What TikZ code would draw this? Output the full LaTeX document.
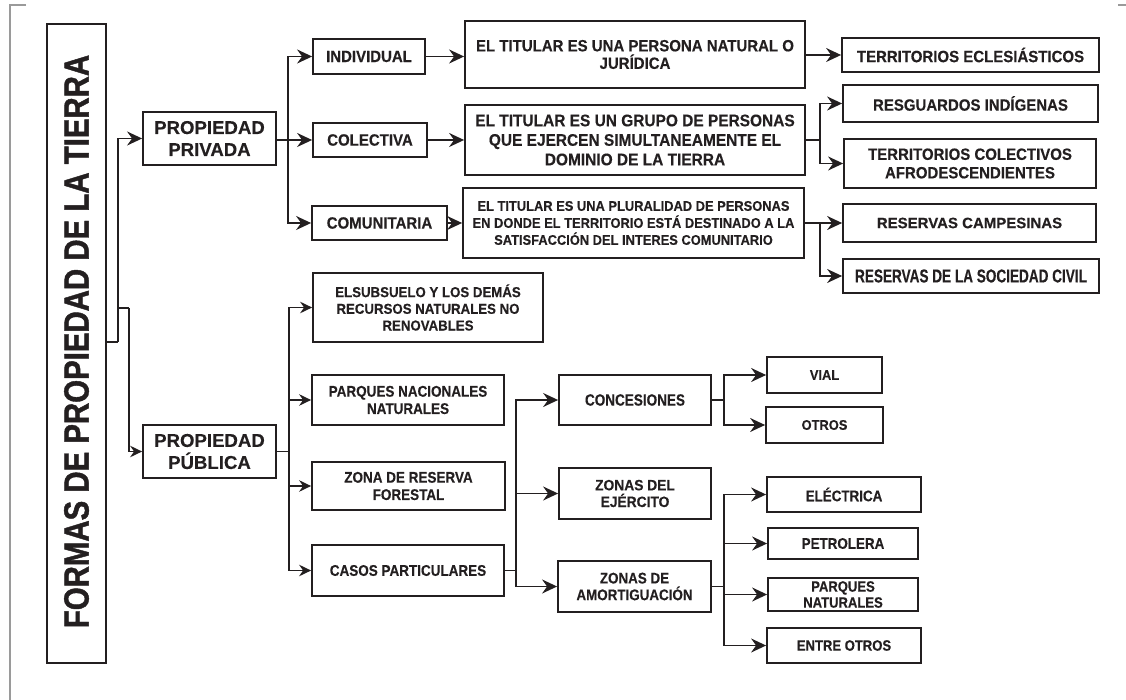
\documentclass[tikz,border=0pt]{standalone}
\usepackage{fontspec}
\setmainfont{Liberation Sans}
\newfontfamily\fa{Liberation Sans}[FakeBold=0.3]
\newfontfamily\fb{Liberation Sans}[FakeStretch=0.92,FakeBold=0.3]
\newfontfamily\fc{Liberation Sans}[FakeStretch=0.87,FakeBold=0.3]
\newfontfamily\fd{Liberation Sans}[FakeStretch=0.83,FakeBold=0.3]
\newfontfamily\fe{Liberation Sans}[FakeStretch=0.73,FakeBold=0.3]
\newfontfamily\ftitle{Liberation Sans}[FakeStretch=0.84,FakeBold=1.2]
\usetikzlibrary{arrows.meta}
\definecolor{ink}{HTML}{231F20}
\definecolor{framegray}{HTML}{9A9A9A}
\newcommand\myfs[2]{\fontsize{#1}{#2}\selectfont\bfseries}
\begin{document}
\begin{tikzpicture}[x=1pt,y=-1pt,
  bx/.style={draw=ink,line width=1.8pt,inner sep=0pt,align=center,text=ink},
  con/.style={draw=ink,line width=1.6pt},
  arr/.style={con,-{Stealth[length=15pt,width=14pt,inset=5pt]}},
  arrs/.style={con,-{Stealth[length=12pt,width=11.5pt,inset=4pt]}}]
\useasboundingbox (0,0) rectangle (1126,700);
% frame marks
\draw[framegray,line width=1.2pt] (26,5) -- (10,5) -- (10,700);
\draw[framegray,line width=1.2pt] (1118,5) -- (1126,5);

% main box
\node[bx,minimum width=59pt,minimum height=639pt] (main) at (76.5,343.5) {};
\node[rotate=90,text=ink,inner sep=0pt,font={\ftitle\myfs{35}{40}}] (mainlbl) at (76.5,341.5) {FORMAS DE PROPIEDAD DE LA TIERRA};

% level 1
\node[bx,minimum width=133pt,minimum height=53pt,font={\fa\myfs{18.6}{22}}] (priv) at (209.5,138.5) {PROPIEDAD\\PRIVADA};
\node[bx,minimum width=133pt,minimum height=53pt,font={\fa\myfs{18.6}{22}}] (pub) at (209.5,451.5) {PROPIEDAD\\PÚBLICA};

% private branch
\node[bx,minimum width=112pt,minimum height=35pt,font={\fb\myfs{16.3}{19}}] (ind) at (369,56.5) {INDIVIDUAL};
\node[bx,minimum width=114pt,minimum height=34pt,font={\fb\myfs{16.3}{19}}] (col) at (370,140) {COLECTIVA};
\node[bx,minimum width=135pt,minimum height=34pt,font={\fb\myfs{16.3}{19}}] (com) at (379.5,223) {COMUNITARIA};

\node[bx,minimum width=340pt,minimum height=67pt,font={\fb\myfs{16.3}{17.5}}] (t1) at (635,54.5) {EL TITULAR ES UNA PERSONA NATURAL O\\JURÍDICA};
\node[bx,minimum width=340pt,minimum height=70pt,font={\fb\myfs{16.8}{19.5}}] (t2) at (635,140) {EL TITULAR ES UN GRUPO DE PERSONAS\\QUE EJERCEN SIMULTANEAMENTE EL\\DOMINIO DE LA TIERRA};
\node[bx,minimum width=341pt,minimum height=70pt,font={\fb\myfs{14}{17}}] (t3) at (633.5,223) {EL TITULAR ES UNA PLURALIDAD DE PERSONAS\\EN DONDE EL TERRITORIO ESTÁ DESTINADO A LA\\SATISFACCIÓN DEL INTERES COMUNITARIO};

\node[bx,minimum width=257pt,minimum height=34pt,font={\fb\myfs{16.3}{19}}] (ecl) at (970.5,55) {TERRITORIOS ECLESIÁSTICOS};
\node[bx,minimum width=255pt,minimum height=37pt,font={\fb\myfs{16.3}{19}}] (res) at (970.5,103.5) {RESGUARDOS INDÍGENAS};
\node[bx,minimum width=252pt,minimum height=49pt,font={\fb\myfs{16.3}{18.5}}] (tco) at (970,163.5) {TERRITORIOS COLECTIVOS\\AFRODESCENDIENTES};
\node[bx,minimum width=253pt,minimum height=38pt,font={\fa\myfs{15}{18}}] (cam) at (969.5,223) {RESERVAS CAMPESINAS};
\node[bx,minimum width=256pt,minimum height=34pt,font={\fe\myfs{18.6}{20}}] (soc) at (971,276) {RESERVAS DE LA SOCIEDAD CIVIL};

% public branch
\node[bx,minimum width=230pt,minimum height=69pt,font={\fb\myfs{14.4}{16.7}}] (sub) at (428,307.5) {ELSUBSUELO Y LOS DEMÁS\\RECURSOS NATURALES NO\\RENOVABLES};
\node[bx,minimum width=192pt,minimum height=50pt,font={\fc\myfs{15.5}{17.3}}] (pnn) at (408,400) {PARQUES NACIONALES\\NATURALES};
\node[bx,minimum width=193pt,minimum height=48pt,font={\fc\myfs{15.5}{17.3}}] (zrf) at (408.5,486) {ZONA DE RESERVA\\FORESTAL};
\node[bx,minimum width=192pt,minimum height=51pt,font={\fc\myfs{15.5}{17.3}}] (cas) at (408,570.5) {CASOS PARTICULARES};

\node[bx,minimum width=152pt,minimum height=50pt,font={\fd\myfs{16.3}{19}}] (conc) at (635,400) {CONCESIONES};
\node[bx,minimum width=152pt,minimum height=51pt,font={\fb\myfs{15}{16.7}}] (ejer) at (635,493.5) {ZONAS DEL\\EJÉRCITO};
\node[bx,minimum width=153pt,minimum height=51pt,font={\fc\myfs{15.4}{16.7}}] (amor) at (634.5,586.5) {ZONAS DE\\AMORTIGUACIÓN};

\node[bx,minimum width=115pt,minimum height=36pt,font={\fb\myfs{14}{17}}] (vial) at (824.5,375) {VIAL};
\node[bx,minimum width=117pt,minimum height=36pt,font={\fb\myfs{14}{17}}] (otros) at (824.5,425) {OTROS};

\node[bx,minimum width=154pt,minimum height=35pt,font={\fc\myfs{15.4}{17}}] (elec) at (844,494.5) {ELÉCTRICA};
\node[bx,minimum width=150pt,minimum height=31pt,font={\fc\myfs{15.4}{17}}] (petr) at (843,543.5) {PETROLERA};
\node[bx,minimum width=150pt,minimum height=33pt,font={\fc\myfs{15}{16}}] (pnat) at (843,594.5) {PARQUES\\NATURALES};
\node[bx,minimum width=154pt,minimum height=35pt,font={\fc\myfs{15}{17}}] (entre) at (844,645.5) {ENTRE OTROS};

% junction coordinates
\coordinate (j1) at (118,342);
\coordinate (j2) at (129,308);
\coordinate (j3) at (288,140);
\coordinate (j4) at (820,140);
\coordinate (j5) at (820,223);
\coordinate (j6) at (289,451.5);
\coordinate (j7) at (516,570.5);
\coordinate (j8) at (724,400);
\coordinate (j9) at (724,586.5);

% connectors: main
\draw[con] (main.east |- j1) -- (j1);
\draw[arr] (j1) |- (priv.west);
\draw[con] (j1 |- j2) -- (j2);
\draw[arrs] (j2) |- (pub.west);

% private
\draw[con] (priv.east |- j3) -- (j3);
\draw[arr] (j3) |- (ind.west);
\draw[arr] (j3) |- (col.west);
\draw[arr] (j3) |- (com.west);
\draw[arr] (ind.east) -- (ind.east -| t1.west);
\draw[arr] (col.east) -- (col.east -| t2.west);
\draw[arr] (com.east) -- (com.east -| t3.west);
\draw[arr] (t1.east |- ecl.west) -- (ecl.west);
\draw[con] (t2.east |- j4) -- (j4);
\draw[arr] (j4) |- (res.west);
\draw[arr] (j4) |- (tco.west);
\draw[con] (t3.east |- j5) -- (j5);
\draw[arr] (j5) |- (cam.west);
\draw[arr] (j5) |- (soc.west);

% public
\draw[con] (pub.east |- j6) -- (j6);
\draw[arrs] (j6) |- (sub.west);
\draw[arrs] (j6) |- (pnn.west);
\draw[arrs] (j6) |- (zrf.west);
\draw[arrs] (j6) |- (cas.west);
\draw[con] (cas.east |- j7) -- (j7);
\draw[arr] (j7) |- (conc.west);
\draw[arr] (j7) |- (ejer.west);
\draw[arr] (j7) |- (amor.west);
\draw[con] (conc.east |- j8) -- (j8);
\draw[arr] (j8) |- (vial.west);
\draw[arr] (j8) |- (otros.west);
\draw[con] (amor.east |- j9) -- (j9);
\draw[arr] (j9) |- (elec.west);
\draw[arr] (j9) |- (petr.west);
\draw[arr] (j9) |- (pnat.west);
\draw[arr] (j9) |- (entre.west);
\end{tikzpicture}
\end{document}
